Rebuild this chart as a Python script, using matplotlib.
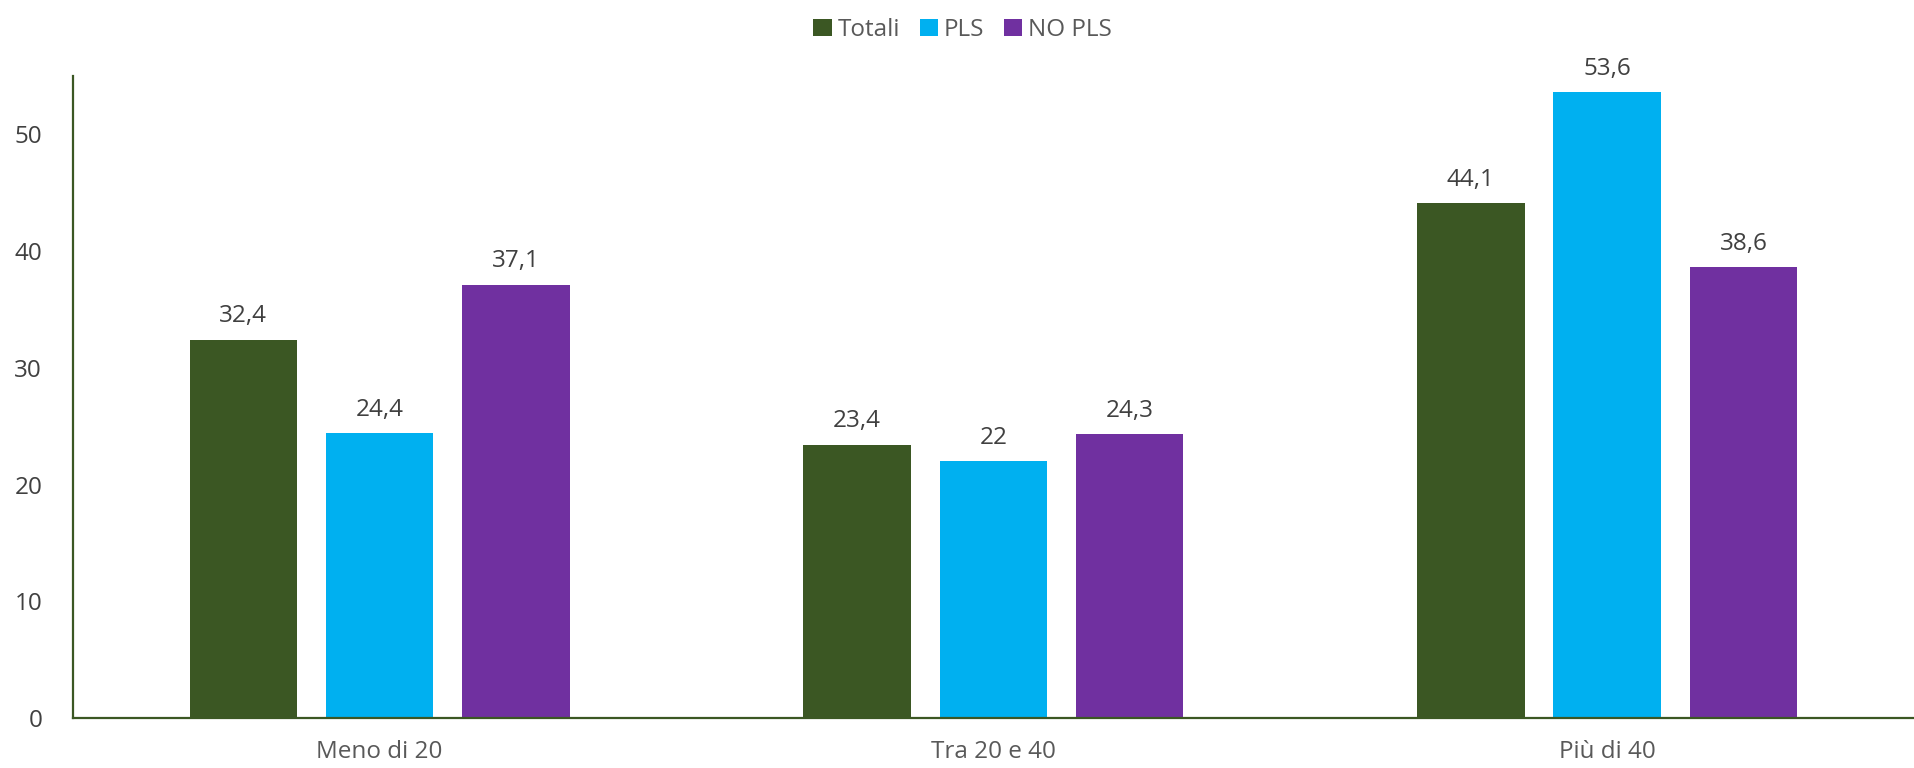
import matplotlib.pyplot as plt
import numpy as np

categories = ["Meno di 20", "Tra 20 e 40", "Più di 40"]
series_names = ["Totali", "PLS", "NO PLS"]
totali = [32.4, 23.4, 44.1]
pls = [24.4, 22.0, 53.6]
no_pls = [37.1, 24.3, 38.6]
colors = ["#3B5723", "#00B0F0", "#7030A0"]

plt.rcParams['font.family'] = ['Open Sans', 'DejaVu Sans']

fig = plt.figure(figsize=(19.14, 7.68), dpi=100)
ax = fig.add_axes([0.038, 0.065, 0.962, 0.836])

x = np.arange(len(categories))
width = 0.175
offset = 0.222

for i, (name, vals) in enumerate(zip(series_names, [totali, pls, no_pls])):
    pos = x + (i - 1) * offset
    ax.bar(pos, vals, width, color=colors[i], label=name, zorder=2)
    for p, v in zip(pos, vals):
        txt = ("%g" % v).replace(".", ",")
        ax.text(p, v + 1.0, txt, ha="center", va="bottom", fontsize=17.5, color="#404040")

ax.set_xlim(-0.5, 2.5)
ax.set_ylim(0, 55)
ax.set_yticks([0, 10, 20, 30, 40, 50])
ax.set_xticks(x)
ax.set_xticklabels(categories)
ax.tick_params(axis="both", length=0, labelsize=17.5, labelcolor="#595959")
ax.tick_params(axis="y", labelcolor="#404040")
ax.tick_params(axis="x", pad=16)
ax.tick_params(axis="y", pad=22)

for s in ["top", "right"]:
    ax.spines[s].set_visible(False)
for s in ["left", "bottom"]:
    ax.spines[s].set_color("#3B5723")
    ax.spines[s].set_linewidth(1.6)

fig.legend(loc="upper center", bbox_to_anchor=(0.503, 1.005), ncol=3, frameon=False,
           fontsize=17.5, handlelength=0.75, handleheight=0.75, handletextpad=0.25,
           columnspacing=0.8, labelcolor="#595959")

fig.savefig("out.png", dpi=100)
